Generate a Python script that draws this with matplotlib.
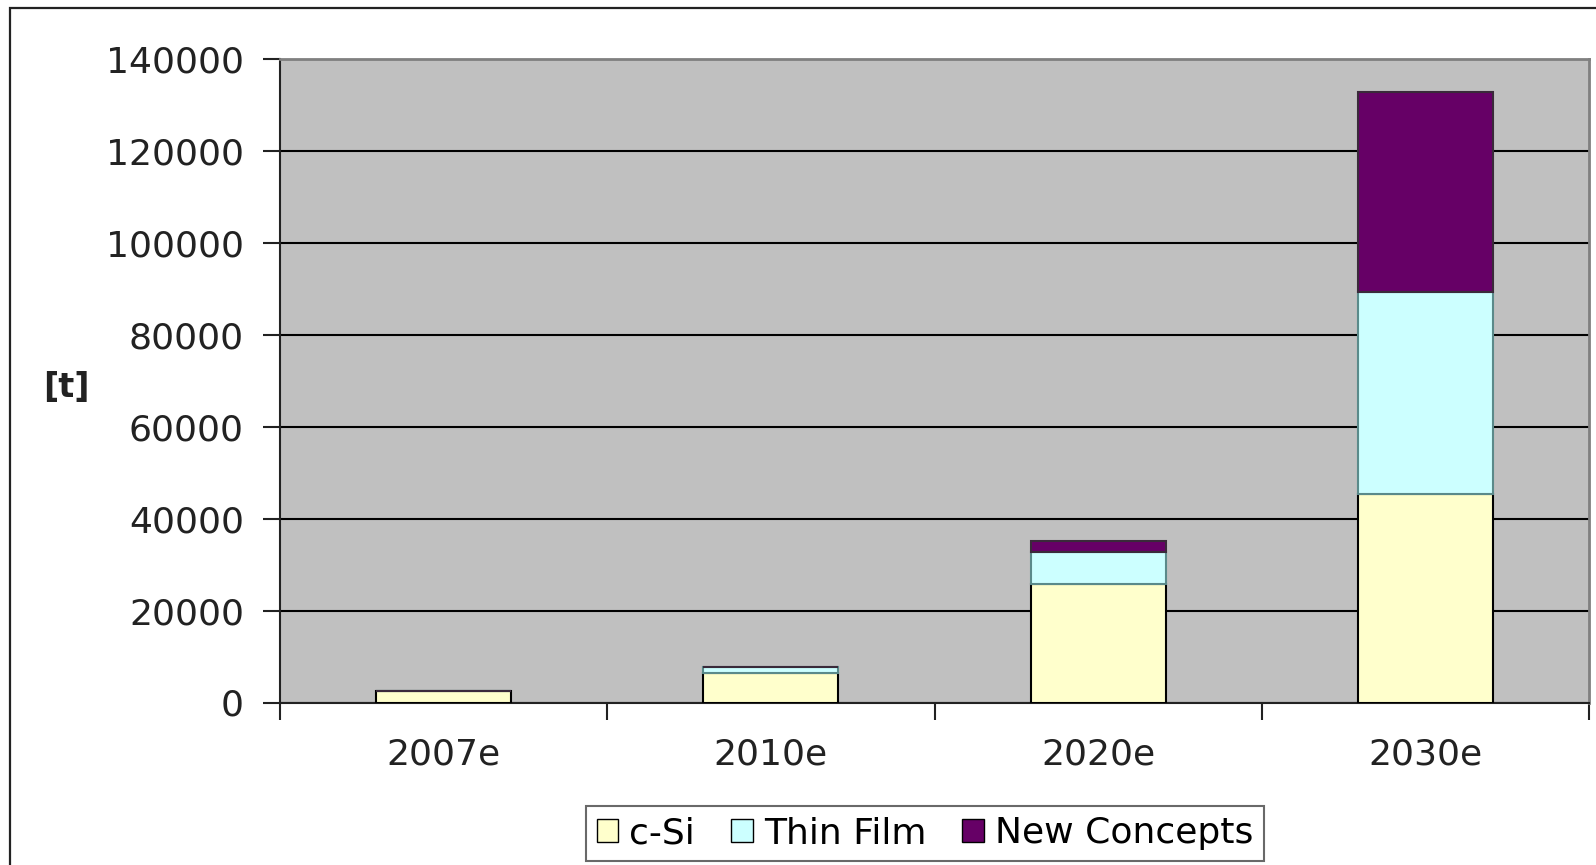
import matplotlib
matplotlib.use("Agg")
import matplotlib.pyplot as plt
from matplotlib.patches import Rectangle, Patch
import numpy as np

categories = ["2007e", "2010e", "2020e", "2030e"]
c_si = [2500, 6500, 25700, 45300]
thin_film = [0, 1200, 7100, 43900]
new_concepts = [0, 0, 2400, 43600]
yticks = [0, 20000, 40000, 60000, 80000, 100000, 120000, 140000]

plt.rcParams['font.family'] = ['DejaVu Sans']
FS = 26

fig = plt.figure(figsize=(15.96, 8.65), dpi=100)
fig.patches.append(Rectangle((10/1596, -0.1), 1.2, (865-8)/865 + 0.1, transform=fig.transFigure,
                             fill=False, edgecolor='#222222', linewidth=1.6))
ax = fig.add_axes([280/1596, 162.5/865, 1309/1596, 643.5/865])
ax.set_facecolor('#C0C0C0')

x = np.arange(len(categories))
w = 0.413
c1 = np.array(c_si); c2 = np.array(thin_film); c3 = np.array(new_concepts)
ax.bar(x, c1, w, color='#FFFFCC', edgecolor='black', linewidth=1.5, zorder=3)
ax.bar(x, c2, w, bottom=c1, color='#CCFFFF', edgecolor='#5a8a8a', linewidth=1.5, zorder=3)
ax.bar(x, c3, w, bottom=c1 + c2, color='#660066', edgecolor='#3a2a3a', linewidth=1.5, zorder=3)

ax.set_xlim(-0.5, 3.5)
ax.set_ylim(0, 140000)
ax.set_yticks(yticks)
ax.set_yticklabels([str(v) for v in yticks], fontsize=FS)
ax.yaxis.grid(True, color='black', linewidth=1.5, zorder=1)
ax.set_axisbelow(True)
ax.tick_params(axis='y', length=12, width=1.5, pad=14, colors='#222222', labelcolor='#222222')
ax.set_xticks(x)
ax.set_xticklabels(categories, fontsize=FS, color='#222222')
ax.set_xticks(np.arange(-0.5, 4, 1), minor=True)
ax.tick_params(axis='x', which='major', length=0, pad=25)
ax.tick_params(axis='x', which='minor', length=12, width=1.5, color='#222222')

for s in ['top', 'right']:
    ax.spines[s].set_color('#808080')
    ax.spines[s].set_linewidth(2)
for s in ['left', 'bottom']:
    ax.spines[s].set_color('#222222')
    ax.spines[s].set_linewidth(1.5)

fig.text(66/1596, 1 - 388/865, "[t]", fontsize=24, fontweight='bold', ha='center', va='center', color='#222222')

handles = [Patch(facecolor='#FFFFCC', edgecolor='black', label='c-Si'),
           Patch(facecolor='#CCFFFF', edgecolor='black', label='Thin Film'),
           Patch(facecolor='#660066', edgecolor='black', label='New Concepts')]
leg = fig.legend(handles=handles, loc='center', bbox_to_anchor=(925/1596, 1 - 833.5/865), ncol=3,
                 fontsize=FS, frameon=True, fancybox=False, handlelength=0.6, handleheight=0.6,
                 handletextpad=0.3, columnspacing=1.0, borderpad=0.3, borderaxespad=0)
leg.get_frame().set_edgecolor('#444444')
leg.get_frame().set_linewidth(1.5)

fig.savefig("out.png", dpi=100)
